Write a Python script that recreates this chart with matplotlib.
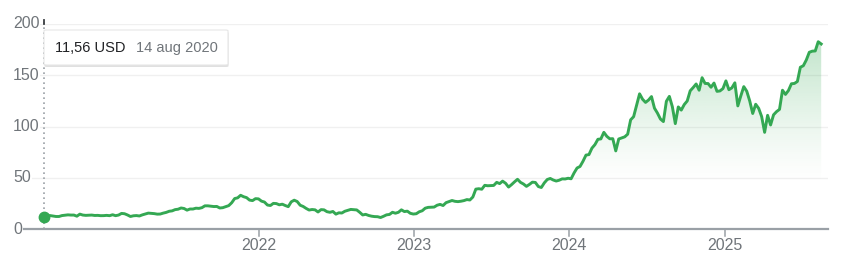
import numpy as np
import pandas as pd
import matplotlib
matplotlib.use("Agg")
import matplotlib.pyplot as plt
import matplotlib.dates as mdates
from matplotlib.patches import FancyBboxPatch

plt.rcParams['font.family'] = ['Liberation Sans', 'DejaVu Sans']

# ---- data: weekly closes (USD), Fridays from 14 Aug 2020 ----
prices_2020 = [11.56, 12.7, 13.1,
               12.6, 12.2, 12.2, 13.1,
               13.4, 13.8, 13.6, 13.6, 12.5,
               14.5, 13.6, 13.3, 13.4,
               13.6, 13.2, 13.3, 13.0, 13.05]
prices_2021 = [13.3, 13.0, 13.9, 13.0,
               13.6, 15.2, 14.9, 13.7,
               12.2, 12.9, 13.1, 12.7,
               13.8, 14.6, 15.5, 15.3, 15.0,
               14.5, 14.6, 15.5, 16.2,
               17.3, 17.7, 18.9, 19.3,
               20.5, 20.0, 18.4, 19.5, 19.5,
               20.3, 20.1, 20.8, 22.6,
               22.6, 22.2, 21.9, 22.0,
               20.5, 20.8, 21.8, 22.8, 25.6,
               29.7, 30.4, 32.9, 31.5,
               30.6, 28.2, 27.7, 29.6, 29.4]
prices_2022 = [27.2, 26.3, 23.4, 22.9,
               25.0, 24.8, 23.6, 24.2,
               22.9, 21.8, 26.5, 28.1,
               26.8, 23.2, 22.0, 20.1, 18.5,
               19.0, 18.7, 16.6, 18.9,
               18.7, 16.9, 16.3, 17.1,
               14.5, 15.8, 15.6, 17.3, 18.2,
               19.1, 18.9, 18.6, 16.3,
               13.7, 14.3, 13.2, 12.5, 12.1,
               12.0, 11.2, 12.4, 13.8,
               14.2, 16.3, 15.4, 16.3,
               18.7, 17.0, 17.4, 15.3, 14.6]
prices_2023 = [14.9, 16.8, 17.8, 20.3,
               21.1, 21.3, 21.4, 23.2,
               24.0, 22.9, 25.7, 26.7, 27.8,
               27.0, 26.7, 27.1, 27.7,
               28.7, 28.3, 31.2, 38.9,
               39.3, 38.8, 42.6, 42.2, 42.3,
               42.5, 45.5, 44.3, 46.7,
               44.6, 40.9, 43.3, 46.0,
               48.5, 45.5, 43.9, 41.6, 43.5,
               45.7, 45.4, 41.4, 40.5,
               45.0, 48.3, 49.3, 47.8,
               46.8, 47.6, 48.9, 48.8, 49.5]
prices_2024 = [49.0, 54.7, 59.5, 61.0,
               66.1, 72.1, 72.6, 78.9,
               82.3, 87.5, 87.9, 94.3, 90.4,
               88.0, 88.1, 76.2, 87.8,
               88.8, 89.9, 92.5, 106.5, 109.6,
               120.9, 131.9, 126.6, 123.5,
               125.8, 129.2, 117.9, 113.1,
               107.3, 104.8, 124.6, 129.4, 119.4,
               102.8, 119.1, 116.0, 121.4,
               124.9, 134.8, 138.0, 141.5,
               135.4, 147.6, 142.0, 141.9, 138.3,
               142.4, 134.3, 134.7, 137.0]
prices_2025 = [144.5, 135.9, 137.7, 142.6, 120.1,
               129.8, 138.9, 134.4, 124.9,
               112.7, 121.7, 117.7, 109.7,
               94.3, 110.9, 101.5, 111.4,
               114.5, 116.7, 135.4, 131.3, 135.1,
               141.7, 142.0, 143.9, 157.8,
               159.3, 164.9, 172.4, 173.5,
               173.7, 182.7, 180.5]
prices = prices_2020 + prices_2021 + prices_2022 + prices_2023 + prices_2024 + prices_2025
dates = pd.date_range("2020-08-14", periods=len(prices), freq="W-FRI")

y_ticks = [0, 50, 100, 150, 200]
x_tick_years = ["2022", "2023", "2024", "2025"]
tooltip_value = "11,56 USD"
tooltip_date = "14 aug 2020"

GREEN = "#34a853"
GRAY_TXT = "#70757a"
W, H = 848, 261

fig = plt.figure(figsize=(W / 100, H / 100), dpi=100)
ax_left, ax_right, ax_top, ax_bot = 22, 828, 24, 229
ax = fig.add_axes([ax_left / W, 1 - ax_bot / H, (ax_right - ax_left) / W, (ax_bot - ax_top) / H])

x0 = pd.Timestamp("2020-06-23")
x1 = pd.Timestamp("2025-08-31")
ax.set_xlim(x0, x1)
ax.set_ylim(0, 200)
for s in ax.spines.values():
    s.set_visible(False)
ax.set_xticks([])
ax.set_yticks([])

# grid
for v in y_ticks[1:]:
    ax.axhline(v, color="#f0f0f0", lw=1.0, zorder=0)
ax.axhline(0, color="#9aa0a6", lw=1.6, zorder=3, clip_on=False)

# gradient fill under the line
xn = mdates.date2num(dates)
poly = ax.fill_between(dates, prices, 0, color="none", lw=0)
ny = 300
yy = np.linspace(200, 0, ny)
alpha = np.clip((yy - 45) / (185 - 45), 0, 1) ** 1.2 * 0.30
img = np.zeros((ny, 2, 4))
rgb = matplotlib.colors.to_rgb(GREEN)
img[..., 0], img[..., 1], img[..., 2] = rgb
img[..., 3] = alpha[:, None]
im = ax.imshow(img, extent=[xn[0], xn[-1], 0, 200], aspect="auto", origin="upper", zorder=1)
im.set_clip_path(poly.get_paths()[0], transform=ax.transData)
ax.set_xlim(x0, x1)
ax.set_ylim(0, 200)

# line
ax.plot(dates, prices, color=GREEN, lw=2.1, zorder=4, solid_joinstyle="round")

# hover line and dot
ax.plot([dates[0], dates[0]], [0, 203], color="#9aa0a6", lw=1.2, ls=(0, (1, 2)), zorder=2, clip_on=False)
ax.plot([dates[0], dates[0]], [200, 203.5], color="#3c4043", lw=1.3, zorder=2, clip_on=False)
ax.plot([dates[0]], [prices[0]], "o", color=GREEN, ms=7.5, zorder=6)

# x ticks
for yr in x_tick_years:
    d = pd.Timestamp(f"{yr}-01-01")
    ax.plot([d, d], [0, -6.5], color="#9aa0a6", lw=1.1, clip_on=False, zorder=3)
    ax.text(d, -16.5, yr, ha="center", va="center", fontsize=11.5, color=GRAY_TXT)

# y labels
for v in y_ticks:
    py = ax_bot - v * (ax_bot - ax_top) / 200
    fig.text(13 / W, 1 - py / H, str(v), ha="left", va="center", fontsize=11.5, color=GRAY_TXT,
             bbox=dict(facecolor="white", edgecolor="none", pad=0.6), zorder=5)

# tooltip
bx0, by0, bx1, by1 = 44, 30, 228, 65
shadow = FancyBboxPatch(((bx0 + 0.5) / W, 1 - (by1 + 2) / H), (bx1 - bx0) / W, (by1 - by0) / H,
                        boxstyle="round,pad=0,rounding_size=0.003", transform=fig.transFigure,
                        facecolor="#000000", alpha=0.12, edgecolor="none", zorder=7)
fig.add_artist(shadow)
box = FancyBboxPatch((bx0 / W, 1 - by1 / H), (bx1 - bx0) / W, (by1 - by0) / H,
                     boxstyle="round,pad=0,rounding_size=0.003", transform=fig.transFigure,
                     facecolor="white", edgecolor="#e6e6e6", lw=0.8, zorder=8)
fig.add_artist(box)
fig.text(55 / W, 1 - 48 / H, tooltip_value, ha="left", va="center", fontsize=10.5, color="#202124", zorder=9)
fig.text(136 / W, 1 - 48 / H, tooltip_date, ha="left", va="center", fontsize=10.5, color=GRAY_TXT, zorder=9)

fig.savefig("out.png", dpi=100, facecolor="white")
